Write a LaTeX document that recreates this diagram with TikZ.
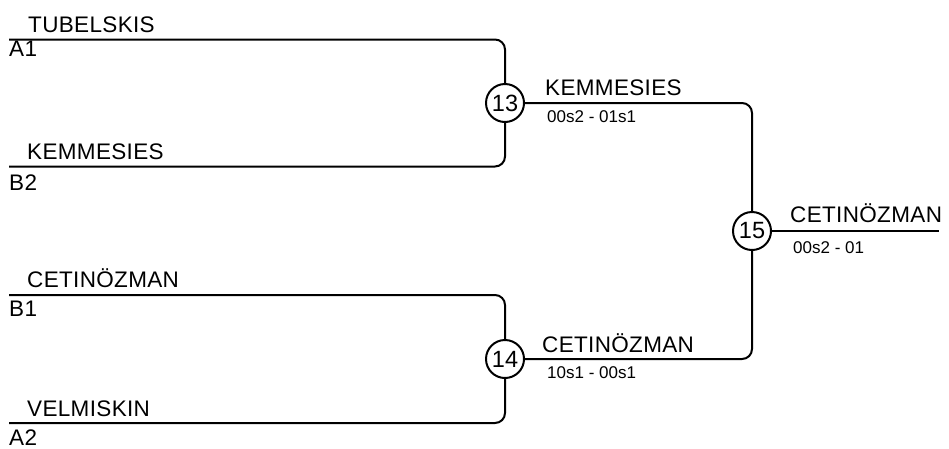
\documentclass[tikz,border=0pt]{standalone}
\usepackage{fontspec}
\setmainfont{Liberation Sans}
\newfontfamily\namefam{Liberation Sans}[LetterSpace=1.5]
\begin{document}
\begin{tikzpicture}[x=1pt,y=-1pt,
  wire/.style={line width=2pt,rounded corners=10pt},
  lbl/.style={anchor=base west,inner sep=0pt,font=\namefam\fontsize{22.5}{26}\selectfont},
  score/.style={anchor=base west,inner sep=0pt,font=\fontsize{17}{19}\selectfont},
  matchno/.style={circle,draw,line width=2pt,minimum size=38pt,inner sep=0pt,font=\fontsize{23.5}{26}\selectfont}]
\useasboundingbox (0,0) rectangle (949,448);
% match circles
\node[matchno] (m13) at (505,103) {13};
\node[matchno] (m14) at (505,359) {14};
\node[matchno] (m15) at (752,231) {15};
% start points
\coordinate (s1) at (9,39.5);
\coordinate (s2) at (9,166.5);
\coordinate (s3) at (9,295);
\coordinate (s4) at (9,423);
\coordinate (fin) at (939,231);
% wires
\draw[wire] (s1) -| (m13.north);
\draw[wire] (s2) -| (m13.south);
\draw[wire] (s3) -| (m14.north);
\draw[wire] (s4) -| (m14.south);
\draw[wire] (m13.east) -| (m15.north);
\draw[wire] (m14.east) -| (m15.south);
\draw[wire] (m15.east) -- (fin);
% names
\node[lbl] (t1) at (28,32) {TUBELSKIS};
\node[lbl] (t1b) at (9,56) {A1};
\node[lbl] (t2) at (27,159) {KEMMESIES};
\node[lbl] (t2b) at (9,190) {B2};
\node[lbl] (t3) at (27,287.5) {CETINÖZMAN};
\node[lbl] (t3b) at (9,316.5) {B1};
\node[lbl] (t4) at (27,416.5) {VELMISKIN};
\node[lbl] (t4b) at (9,445) {A2};
\node[lbl] (w13) at (545,95) {KEMMESIES};
\node[score] (r13) at (547,122) {00s2 - 01s1};
\node[lbl] (w14) at (542,352) {CETINÖZMAN};
\node[score] (r14) at (547,378) {10s1 - 00s1};
\node[lbl] (w15) at (790,222) {CETINÖZMAN};
\node[score] (r15) at (793,253) {00s2 - 01};
\end{tikzpicture}
\end{document}
